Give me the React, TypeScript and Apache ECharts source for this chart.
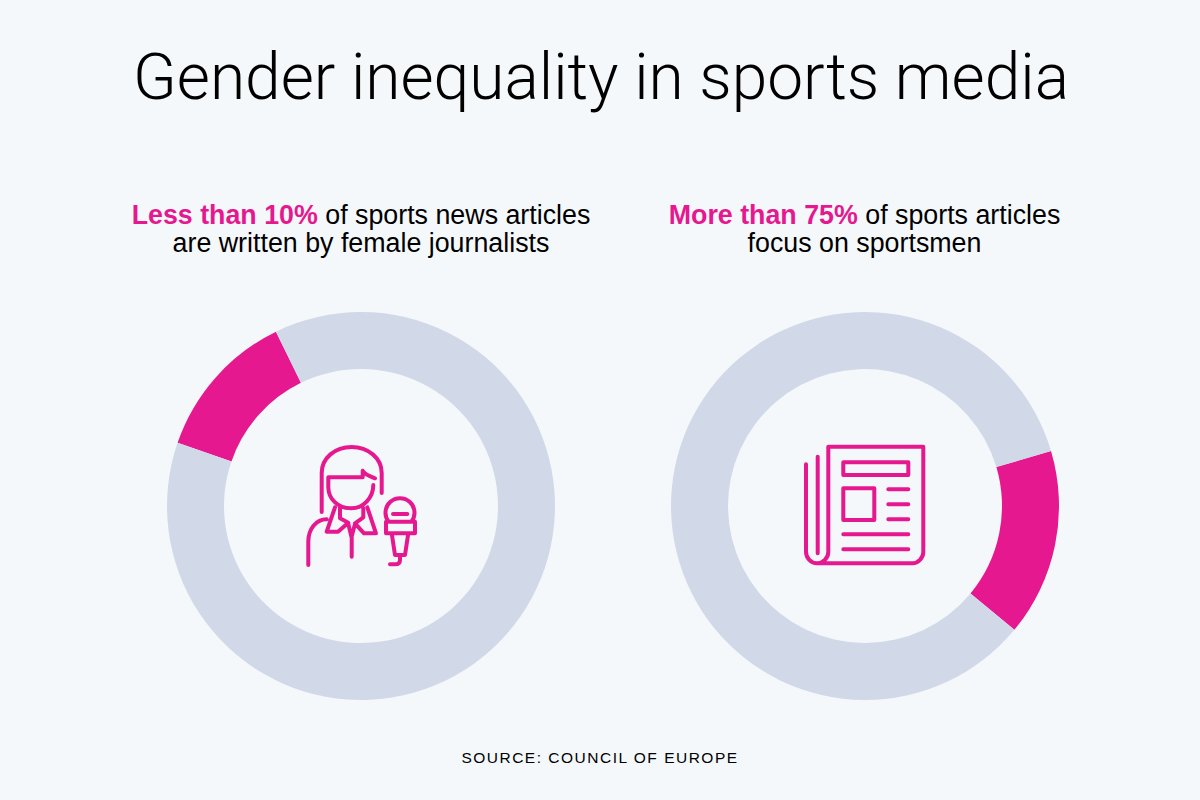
import React, { useEffect, useRef } from "react";
import * as echarts from "echarts";

const titleText = "Gender inequality in sports media";
const sourceText = "SOURCE: COUNCIL OF EUROPE";
const leftNames = ["Female journalists", "Other"];
const leftValues = [12.5, 87.5];
const rightNames = ["Sportsmen gap", "Other"];
const rightValues = [15.6, 84.4];

const PINK = "#e6188f";
const GREY = "#d1d8e8";
const BG = "#f4f8fb";

const womanPath =
  "M321.7 512V473C321.7 458 335 447 351.7 447C368 447 381.7 458 381.7 473V493" +
  "M375 478.3C369 476 364 474 362.7 470.7V477.3H328.3V487C328.3 499 338 508.3 351 508.3C363 508.3 373.3 498 373.3 485" +
  "M335 507.3L326.7 531.7H338L348.3 522.7L340 518.3V507" +
  "M363.3 508.3V517.3L355 523.3L364 533.3H376L367.3 507.3" +
  "M348.3 524L351.5 537L355 524M351.7 537V556.7" +
  "M308.3 565V541.7C308.3 529 316 519.3 326.7 519.3" +
  "M388.6 521.7A14.5 14.5 0 1 1 411.4 521.7" +
  "M393 514H407.3M386 521.7H415V533.3H386Z" +
  "M391.7 533.3L395 555H405L408.3 533.3" +
  "M400 556V560C400 563 398 564.3 395 564.3H390";

const paperPath =
  "M817.7 456.7V553.3" +
  "M806 464.3V551.7C806 558 811 563.3 817 563.3C823 563.3 828.3 558 828.3 552V446.7H923.3V552C923.3 558 918 563.3 912.7 563.3H817" +
  "M843.3 462.3H908.3V475H843.3Z" +
  "M843.3 488.3H874.3V520H843.3Z" +
  "M888.3 489.3H908.3M888.3 504.3H908.3M888.3 519.3H908.3" +
  "M843.3 534.3H908.3M843.3 549.3H908.3";

echarts.graphic.registerShape("womanIcon", echarts.graphic.extendPath(womanPath, {}));
echarts.graphic.registerShape("paperIcon", echarts.graphic.extendPath(paperPath, {}));

const FONT = "'Liberation Sans', Arial, sans-serif";
const SOURCE_FONT = "'Liberation Sans', Helvetica, sans-serif";

function donut(names: string[], values: number[], cx: number, startAngle: number) {
  return {
    type: "pie",
    center: [cx, 506],
    radius: [137, 194],
    startAngle,
    silent: true,
    label: { show: false },
    labelLine: { show: false },
    itemStyle: { borderWidth: 0 },
    data: names.map((name, i) => ({
      name,
      value: values[i],
      itemStyle: { color: i === 0 ? PINK : GREY },
    })),
  };
}

function subtitle(text: string, left: number) {
  return {
    text,
    left,
    top: 201,
    padding: 0,
    textAlign: "center",
    textStyle: {
      fontWeight: "normal",
      rich: {
        a: { fontFamily: FONT, fontSize: 26.8, fontWeight: "bold", color: PINK, lineHeight: 28 },
        b: { fontFamily: FONT, fontSize: 26.8, fontWeight: "normal", color: "#000", lineHeight: 28 },
      },
    },
  };
}

export default function App() {
  const ref = useRef<HTMLDivElement>(null);
  useEffect(() => {
    document.body.style.margin = "0";
    const chart = echarts.init(ref.current!, null, { renderer: "svg" });
    chart.setOption({
      animation: false,
      backgroundColor: BG,
      title: [
        {
          text: titleText,
          left: 601,
          top: 45,
          padding: 0,
          textAlign: "center",
          textStyle: { fontFamily: "Roboto, sans-serif", fontSize: 64, fontWeight: 300, color: "#000" },
        },
        subtitle("{a|Less than 10%}{b| of sports news articles}\n{b|are written by female journalists}", 361),
        subtitle("{a|More than 75%}{b| of sports articles}\n{b|focus on sportsmen}", 864.5),
        {
          text: sourceText,
          left: 600,
          top: 749,
          padding: 0,
          textAlign: "center",
          textStyle: { fontFamily: SOURCE_FONT, fontSize: 15.5, fontWeight: "normal", color: "#000" },
        },
      ],
      series: [donut(leftNames, leftValues, 361, 161), donut(rightNames, rightValues, 865, 16.5)],
      graphic: [
        { type: "womanIcon", x: 0, y: 0, style: { fill: "none", stroke: PINK, lineWidth: 4, lineCap: "round", lineJoin: "round" } },
        { type: "paperIcon", x: 0, y: 0, style: { fill: "none", stroke: PINK, lineWidth: 4, lineCap: "round", lineJoin: "round" } },
      ],
    });
    return () => chart.dispose();
  }, []);
  return (
    <div>
      <style>{`svg text[style*="Helvetica"] { letter-spacing: 1.5px; }`}</style>
      <div ref={ref} style={{ width: 1200, height: 800 }} />
    </div>
  );
}
